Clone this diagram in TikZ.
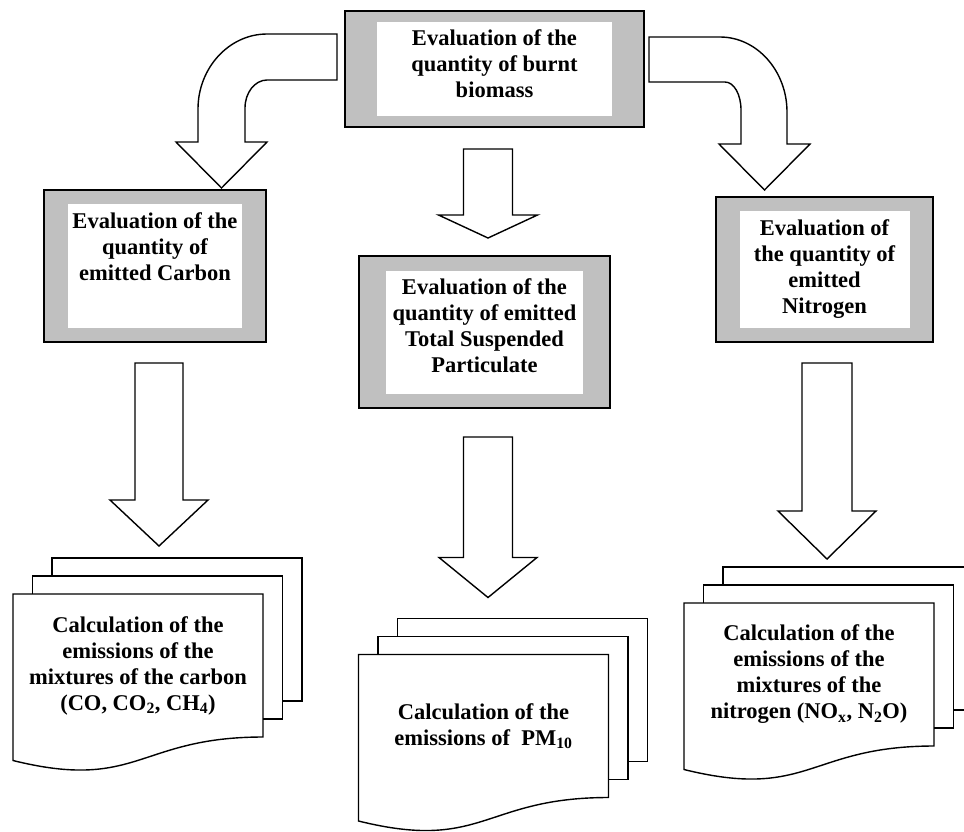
\documentclass[tikz,border=0pt]{standalone}
\usepackage{fontspec}
\setmainfont{Liberation Serif}
\usetikzlibrary{calc}
\definecolor{boxgray}{RGB}{192,192,192}

\newcommand{\fatarrow}[5]{%
  \draw [arrowline] let \p1=#1, \p2=#2 in
    (\x2-#4pt,\y1) -- (\x2-#4pt,\y2+#3pt) -- (\x2-#5pt,\y2+#3pt) -- (\x2,\y2)
    -- (\x2+#5pt,\y2+#3pt) -- (\x2+#4pt,\y2+#3pt) -- (\x2+#4pt,\y1) -- cycle;
}
\newcommand{\multidoc}[1]{%
  \draw [docline] ([shift={(39,-18)}]#1.north west) -- ++(0,-18) -- ([shift={(39,-36)}]#1.north east)
    -- ([shift={(39,-36)}]#1.south east) -- ([shift={(19.5,-36)}]#1.south east);
  \draw [docline] ([shift={(19.5,0)}]#1.north west) -- ++(0,-18) -- ([shift={(19.5,-18)}]#1.north east)
    -- ([shift={(19.5,-18)}]#1.south east) -- ([shift={(0,-18)}]#1.south east);
  \draw [docline] (#1.north west) -- (#1.north east) -- (#1.south east)
    .. controls (#1.south) and ([shift={(0,54.5)}]#1.south) .. ([shift={(0,23.5)}]#1.south west) -- cycle;
}

\begin{document}
\begin{tikzpicture}[
  x=1pt, y=-1pt,
  textfont/.style={font=\fontsize{22.5}{26}\selectfont\bfseries},
  evalbox/.style 2 args={rectangle, draw, line width=1.4pt, fill=boxgray, textfont, anchor=north,
    align=flush center, outer sep=0pt, inner xsep=0pt, inner ysep=22.5pt, text height=15.5pt,
    path picture={\fill [white] ([shift={(#1,#2)}]path picture bounding box.north west)
      rectangle ([shift={(-#1,-#2)}]path picture bounding box.south east);}},
  docpage/.style={rectangle, textfont, align=center, minimum width=250pt, minimum height=143pt,
    inner sep=0pt, outer sep=0pt},
  docline/.style={draw, line width=1.4pt},
  arrowline/.style={draw, fill=white, line width=1.4pt}
]
\clip (0,0) rectangle (964,831);
\fill [white] (0,0) rectangle (964,831);

\node [evalbox={32}{11}, text width=235pt, minimum width=299pt, minimum height=116pt, inner ysep=19pt, text depth=62.5pt] (burnt) at (494.5,11) {Evaluation of the\\ quantity of burnt\\ biomass};
\node [evalbox={24}{14}, text width=174pt, minimum width=222pt, minimum height=152pt, text depth=91.5pt] (carbon) at (155,190) {Evaluation of the\\ quantity of\\ emitted Carbon};
\node [evalbox={27}{14.5}, text width=197pt, minimum width=251pt, minimum height=152pt, text depth=91.5pt] (tsp) at (484.5,256) {Evaluation of the\\ quantity of emitted\\ Total Suspended\\ Particulate};
\node [evalbox={23.5}{14}, text width=170pt, minimum width=217pt, minimum height=145pt, text depth=84.5pt] (nitrogen) at (824.5,197) {Evaluation of\\ the quantity of\\ emitted\\ Nitrogen};

\node [docpage] (carbcalc) at (138,665.5) {Calculation of the\\ emissions of the\\ mixtures of the carbon\\ (CO, CO\textsubscript{2}, CH\textsubscript{4})};
\node [docpage] (pmcalc) at (483.5,726) {Calculation of the\\ emissions of~ PM\textsubscript{10}};
\node [docpage] (nitcalc) at (809,674.5) {Calculation of the\\ emissions of the\\ mixtures of the\\ nitrogen (NO\textsubscript{x}, N\textsubscript{2}O)};

\multidoc{carbcalc}
\multidoc{pmcalc}
\multidoc{nitcalc}

\draw [arrowline] ($(burnt.north west)+(-8,23)$) -- ++(-70,0)
  .. controls +(-38,0) and +(0,-41) .. ++(-69,75)
  -- ++(0,33) -- ++(-22,0) -- ++(45.5,46) -- ++(45.5,-46) -- ++(-22,0) -- ++(0,-34)
  .. controls +(0,-15.5) and +(-12,0) .. ++(22,-28)
  -- ++(70,0) -- cycle;
\draw [arrowline] ($(burnt.north east)+(5,26)$) -- ++(71,0)
  .. controls +(37,0) and +(0,-41) .. ++(67,75)
  -- ++(0,32) -- ++(23,0) -- ++(-45.5,46) -- ++(-45.5,-46) -- ++(22,0) -- ++(0,-34)
  .. controls +(0,-15.5) and +(9,0) .. ++(-16,-28)
  -- ++(-76,0) -- cycle;

\fatarrow{($(burnt.south)+(-6.5,22)$)}{($(tsp.north)+(3.5,-18)$)}{23}{24.5}{49.5}
\fatarrow{($(carbon.south)+(4,21)$)}{($(carbcalc.north)+(21,-48)$)}{46}{24}{49}
\fatarrow{($(tsp.south)+(3.5,29)$)}{($(pmcalc.north)+(4.5,-57)$)}{40}{24.5}{49}
\fatarrow{($(nitrogen.south)+(2.5,21)$)}{($(nitcalc.north)+(18,-44)$)}{48}{25}{49}

\end{tikzpicture}
\end{document}
